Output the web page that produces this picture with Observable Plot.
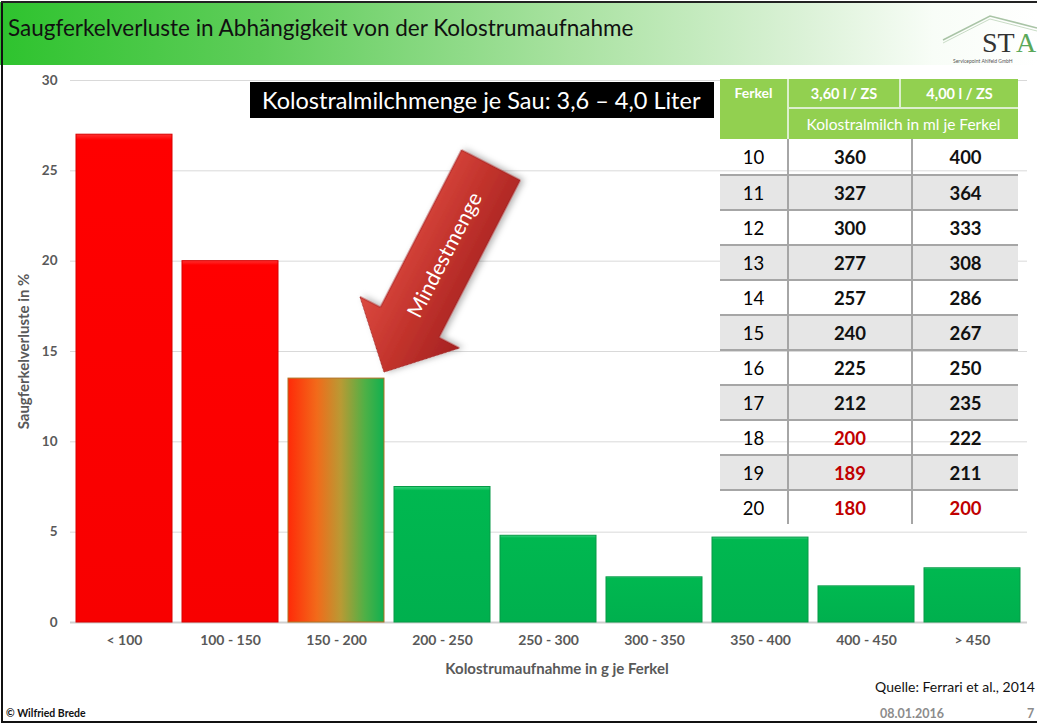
<!DOCTYPE html>
<html><head><meta charset="utf-8">
<script src="https://cdn.jsdelivr.net/npm/d3@7"></script>
<script src="https://cdn.jsdelivr.net/npm/@observablehq/plot@0.6"></script>
<style>
body{margin:0;background:#fff;font-family:Lato,"Open Sans",sans-serif;}
#slide{position:relative;width:1037px;height:725px;overflow:hidden;background:#fff;}
#header{position:absolute;left:0;top:2px;width:1037px;height:63px;background:linear-gradient(90deg,#2ec32e 0%,#5fcd5a 25%,#a9e2a1 55%,#dcf2d8 78%,#f8fdf7 90%,#fff 100%);}
#title{position:absolute;left:8px;top:14px;font-size:22.5px;color:#111;white-space:nowrap;}
#borderL{position:absolute;left:1px;top:2px;width:2px;height:721px;background:#111;}
#borderT{position:absolute;left:1px;top:1px;width:1036px;height:2px;background:#222;}
#borderB{position:absolute;left:1px;top:721px;width:1036px;height:2px;background:#111;}
#chart{position:absolute;left:0;top:66px;}
#box{position:absolute;left:250px;top:82px;width:464px;height:36px;background:#000;color:#fff;font-size:23.5px;line-height:36px;padding-left:12px;box-sizing:border-box;white-space:nowrap;}
#tbl{position:absolute;left:720px;top:79px;border-collapse:collapse;table-layout:fixed;width:298px;font-family:Lato,sans-serif;}
#tbl th{background:#92d050;color:#fff;padding:0;text-align:center;}
#tbl tr.h1 th{height:28px;font-weight:bold;font-size:14.5px;}
#tbl tr.h2 th{height:30px;font-weight:normal;font-size:15.5px;border-top:2px solid #dcefcc;}
#tbl th.fk{vertical-align:top;padding-top:5px;border-right:2px solid #dcefcc;font-size:14px !important;}
#tbl th.c2{border-right:2px solid #dcefcc;}
#tbl td{height:33px;font-size:18.5px;text-align:center;padding:0;border-top:2px solid #a6a6a6;}
#tbl tbody tr:first-child td{border-top:none;height:35px;}
#tbl td.c1{border-right:2px solid #a6a6a6;font-weight:normal;}
#tbl td.c2{border-right:2px solid #a6a6a6;font-weight:bold;}
#tbl td.c3{font-weight:bold;}
#tbl tr.alt td{background:#e6e6e6;}
#quelle{position:absolute;right:2px;top:678px;font-size:14px;color:#111;white-space:nowrap;}
#copy{position:absolute;left:6px;top:707px;font-size:10.5px;font-weight:bold;color:#111;}
#date{position:absolute;left:880px;top:706px;font-size:12.5px;font-weight:bold;color:#8c8c8c;}
#page{position:absolute;left:1027px;top:706px;font-size:12.5px;font-weight:bold;color:#8c8c8c;}
#logo{position:absolute;left:935px;top:6px;}
</style>
</head><body>
<div id="slide">
  <div id="header"></div>
  <div id="title">Saugferkelverluste in Abhängigkeit von der Kolostrumaufnahme</div>
  <div id="logo"><svg width="102" height="60">
    <polyline points="8,34 55,10 102,22" fill="none" stroke="#a9c4a6" stroke-width="1.5"/>
    <polyline points="8,37 55,13 102,25" fill="none" stroke="#c9dcc6" stroke-width="1"/>
    <text x="47" y="46" font-family="Liberation Serif,DejaVu Serif,serif" font-size="28" fill="#333">ST</text>
    <text x="81" y="46" font-family="Liberation Serif,DejaVu Serif,serif" font-size="28" fill="#5aa85a">A</text>
    <text x="18" y="57" font-family="Lato,sans-serif" font-size="5" fill="#555">Servicepoint Ahlfeld GmbH</text>
  </svg></div>
  <div id="chart"></div>
  <div id="box">Kolostralmilchmenge je Sau: 3,6 – 4,0 Liter</div>
  <table id="tbl">
    <colgroup><col style="width:68px"><col style="width:112px"><col style="width:12px"><col style="width:106px"></colgroup>
    <thead>
      <tr class="h1"><th rowspan="2" class="fk" id="hFerkel"></th><th class="c2" id="hA"></th><th colspan="2" id="hB"></th></tr>
      <tr class="h2"><th colspan="3" id="hSub"></th></tr>
    </thead>
    <tbody id="tbody"></tbody>
  </table>
  <div id="quelle">Quelle: Ferrari et al., 2014</div>
  <div id="copy">© Wilfried Brede</div>
  <div id="date">08.01.2016</div>
  <div id="page">7</div>
  <div id="borderL"></div><div id="borderT"></div><div id="borderB"></div>
</div>
<script>
// ---- chart data ----
const categories = ["< 100", "100 - 150", "150 - 200", "200 - 250", "250 - 300", "300 - 350", "350 - 400", "400 - 450", "> 450"];
const losses = [27, 20, 13.5, 7.5, 4.8, 2.5, 4.7, 2.0, 3.0];
const yTicks = [0, 5, 10, 15, 20, 25, 30];
const transitionClass = "150 - 200";
const yLabel = "Saugferkelverluste in %";
const xLabel = "Kolostrumaufnahme in g je Ferkel";
const arrowLabel = "Mindestmenge";

// ---- table data ----
const tableHeaders = ["Ferkel", "3,60 l / ZS", "4,00 l / ZS"];
const tableSubHeader = "Kolostralmilch in ml je Ferkel";
const ferkel = [10, 11, 12, 13, 14, 15, 16, 17, 18, 19, 20];
const ml360 = [360, 327, 300, 277, 257, 240, 225, 212, 200, 189, 180];
const ml400 = [400, 364, 333, 308, 286, 267, 250, 235, 222, 211, 200];
const minMl = 200;

// table
document.getElementById("hFerkel").textContent = tableHeaders[0];
document.getElementById("hA").textContent = tableHeaders[1];
document.getElementById("hB").textContent = tableHeaders[2];
document.getElementById("hSub").textContent = tableSubHeader;
const tb = document.getElementById("tbody");
ferkel.forEach((f, i) => {
  const tr = document.createElement("tr");
  if (f % 2 === 1) tr.className = "alt";
  const red = v => v <= minMl ? "#c00000" : "#111";
  tr.innerHTML = `<td class="c1">${f}</td><td class="c2" colspan="2" style="color:${red(ml360[i])}">${ml360[i]}</td><td class="c3" style="color:${red(ml400[i])}">${ml400[i]}</td>`;
  tb.appendChild(tr);
});

// chart
const tIdx = categories.indexOf(transitionClass);
const data = categories.map((c, i) => ({cat: c, v: losses[i], i}));
const fillOf = d => d.i < tIdx ? "url(#gRed)" : d.i === tIdx ? "url(#gMix)" : "url(#gGreen)";
const strokeOf = d => d.i < tIdx ? "#d80000" : d.i === tIdx ? "#b07020" : "#069a46";

const defsMark = () => {
  const g = d3.create("svg:g");
  g.html(`<defs>
    <linearGradient id="gRed" x1="0" x2="0" y1="0" y2="1">
      <stop offset="0" stop-color="#ff3030"/><stop offset="0.012" stop-color="#ff0000"/><stop offset="1" stop-color="#f80000"/>
    </linearGradient>
    <linearGradient id="gGreen" x1="0" x2="0" y1="0" y2="1">
      <stop offset="0" stop-color="#39d27f"/><stop offset="0.03" stop-color="#00b850"/><stop offset="1" stop-color="#00b04e"/>
    </linearGradient>
    <linearGradient id="gMix" x1="0" x2="1" y1="0" y2="0">
      <stop offset="0" stop-color="#ff2a08"/><stop offset="0.3" stop-color="#f26a1a"/>
      <stop offset="0.55" stop-color="#b99a34"/><stop offset="0.8" stop-color="#4fb046"/><stop offset="1" stop-color="#10b050"/>
    </linearGradient>
    <linearGradient id="gArrow" x1="0" x2="0" y1="0" y2="1">
      <stop offset="0" stop-color="#dc4a40"/><stop offset="0.5" stop-color="#c2332c"/><stop offset="1" stop-color="#a52222"/>
    </linearGradient>
    <filter id="shadow" x="-20%" y="-20%" width="140%" height="140%">
      <feDropShadow dx="2" dy="3" stdDeviation="3" flood-color="#000" flood-opacity="0.3"/>
    </filter>
  </defs>`);
  return g.node();
};

const arrowMark = (index, scales) => {
  const sx = scales.x, sy = scales.y;
  const bw = typeof sx.bandwidth === "function" ? sx.bandwidth() : 0;
  const tipX = sx(transitionClass) + bw;
  const tipY = sy(losses[tIdx]) - 6;
  const angle = -62.7;
  const head = 56, halfHead = 56, halfShaft = 33, len = 233;
  const g = d3.create("svg:g").attr("transform", `translate(${tipX},${tipY}) rotate(${angle})`);
  g.append("polygon")
    .attr("points", [[0,0],[head,-halfHead],[head,-halfShaft],[len,-halfShaft],[len,halfShaft],[head,halfShaft],[head,halfHead]].map(p => p.join(",")).join(" "))
    .attr("fill", "url(#gArrow)").attr("stroke", "#9e2020").attr("stroke-width", 0.8)
    .attr("filter", "url(#shadow)");
  g.append("text").attr("x", 132).attr("y", 0).attr("dy", "0.35em")
    .attr("text-anchor", "middle").attr("fill", "#fff")
    .attr("font-size", 21).attr("font-weight", "normal").attr("font-family", "Lato, sans-serif")
    .text(arrowLabel);
  return g.node();
};

const chart = Plot.plot({
  width: 1037, height: 616,
  marginLeft: 70, marginRight: 10, marginTop: 14, marginBottom: 60,
  style: {fontFamily: "Lato, sans-serif", background: "transparent", overflow: "visible"},
  x: {domain: categories, paddingInner: 0.09, paddingOuter: 0.045, label: null},
  y: {domain: [0, 30], ticks: yTicks, label: null},
  color: {type: "identity"},
  marks: [
    defsMark,
    Plot.gridY(yTicks, {stroke: "#d9d9d9", strokeOpacity: 1, strokeWidth: 1}),
    Plot.ruleY([0], {stroke: "#d0d0d0", strokeWidth: 2}),
    Plot.barY(data, {x: "cat", y: "v", fill: fillOf, stroke: strokeOf, strokeWidth: 1}),
    Plot.axisY(yTicks, {tickSize: 0, tickPadding: 13, fontWeight: "bold", fill: "#595959", fontSize: 13.5, label: null}),
    Plot.axisX({tickSize: 0, tickPadding: 13, fontWeight: "bold", fill: "#595959", fontSize: 14, label: null}),
    Plot.text([yLabel], {frameAnchor: "left", textAnchor: "middle", rotate: -90, dx: -46, fontWeight: "bold", fill: "#595959", fontSize: 15}),
    Plot.text([xLabel], {frameAnchor: "bottom", dy: 51, dx: 8, fontWeight: "bold", fill: "#595959", fontSize: 15}),
    arrowMark
  ]
});
document.getElementById("chart").appendChild(chart);
</script>
</body></html>
